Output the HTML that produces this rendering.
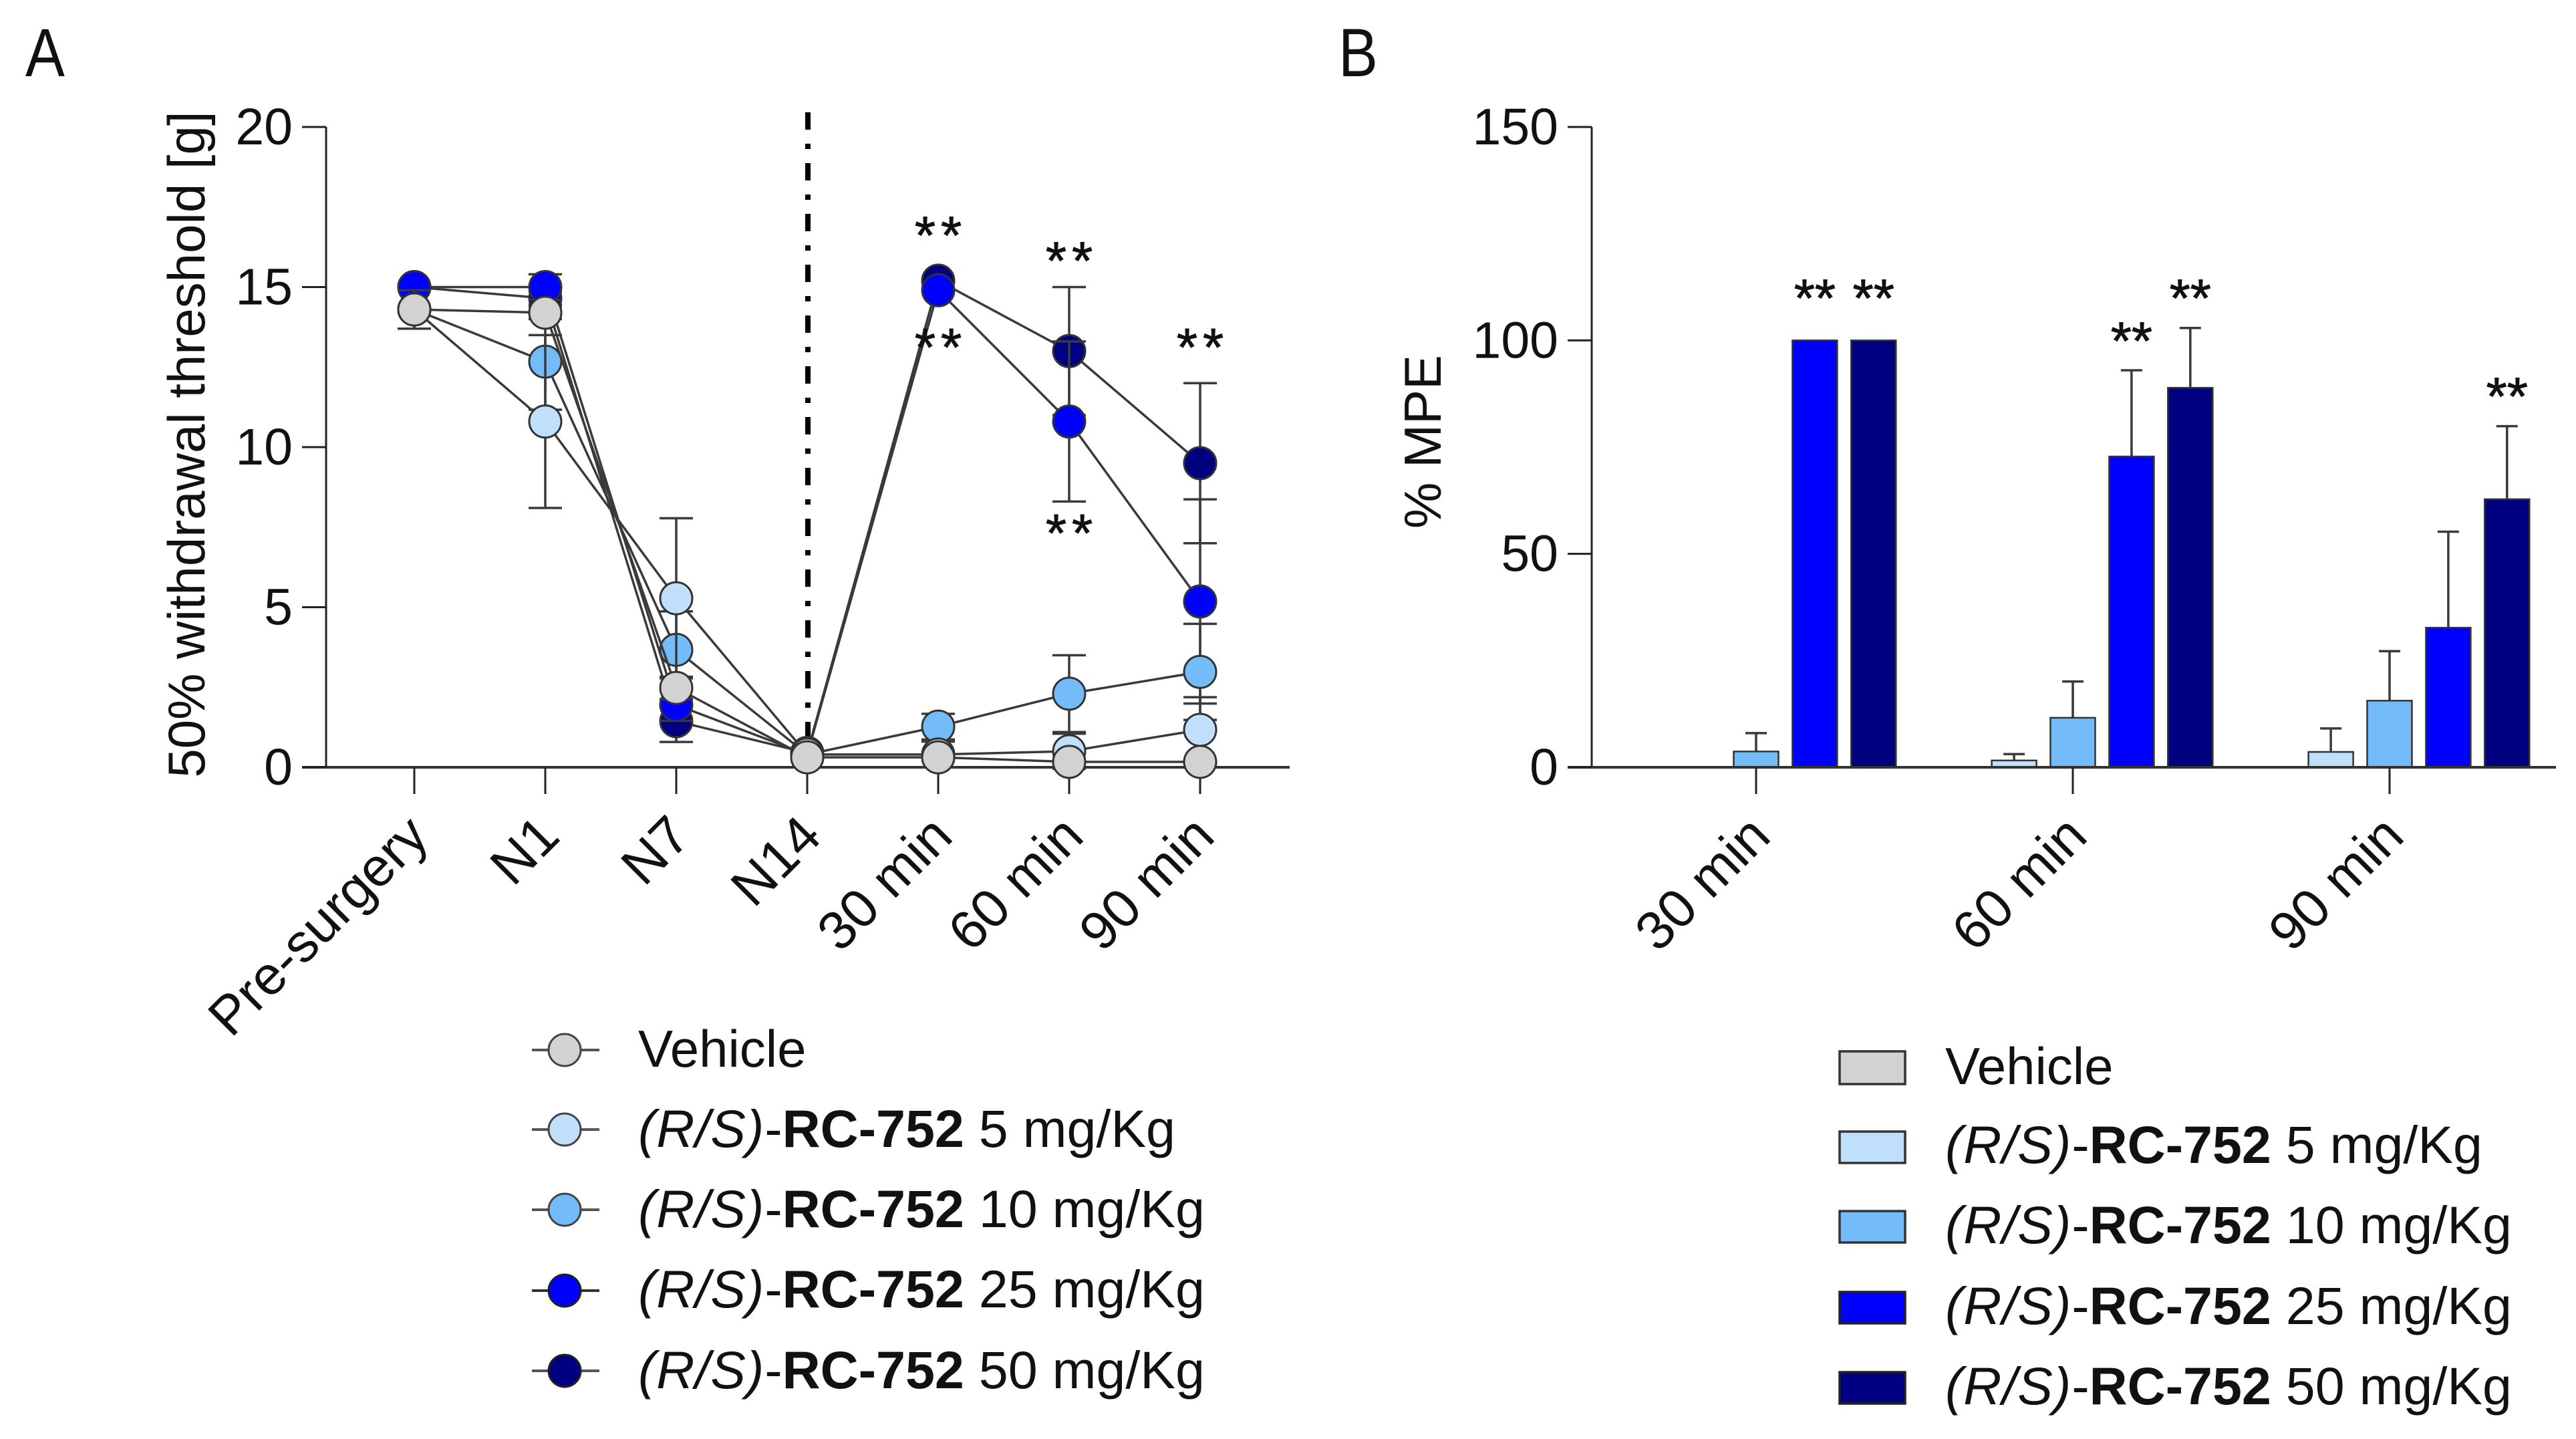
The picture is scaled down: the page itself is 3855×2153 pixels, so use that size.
<!DOCTYPE html>
<html lang="en">
<head>
<meta charset="utf-8">
<title>RC-752 withdrawal threshold and MPE</title>
<style>
html,body{margin:0;padding:0;background:#fff;}
svg{display:block;}
text{font-family:"Liberation Sans",sans-serif;fill:#111;}
.leg{font-size:79px;}
.veh{font-size:78px;}
.rs{font-style:italic;letter-spacing:1px;}
</style>
</head>
<body>
<svg id="figure" xmlns="http://www.w3.org/2000/svg" width="3855" height="2153" viewBox="0 0 3855 2153">
<rect x="0" y="0" width="3855" height="2153" fill="#fff"/>
<text transform="translate(38 114) scale(0.92 1.06)" font-size="96">A</text>
<text transform="translate(2003 114) scale(0.92 1.06)" font-size="96">B</text>
<text transform="translate(306 665) rotate(-90)" text-anchor="middle" font-size="78">50% withdrawal threshold [g]</text>
<text transform="translate(2156 661) rotate(-90)" text-anchor="middle" font-size="78">% MPE</text>

<g id="panelA"></g>
<g id="panelB"></g>

<g>
  <g>
    <line x1="796" x2="897" y1="1571" y2="1571" stroke="#555" stroke-width="4"/>
    <circle cx="845" cy="1571" r="24" fill="#d2d2d2" stroke="#444" stroke-width="3"/>
    <text class="veh" x="955" y="1596">Vehicle</text>
  </g>
  <g>
    <line x1="796" x2="897" y1="1690" y2="1690" stroke="#555" stroke-width="4"/>
    <circle cx="845" cy="1690" r="24" fill="#c0dffa" stroke="#444" stroke-width="3"/>
    <text class="leg" x="955" y="1716"><tspan class="rs">(R/S)</tspan>-<tspan font-weight="bold">RC-752</tspan> 5 mg/Kg</text>
  </g>
  <g>
    <line x1="796" x2="897" y1="1810" y2="1810" stroke="#555" stroke-width="4"/>
    <circle cx="845" cy="1810" r="24" fill="#74bbf9" stroke="#444" stroke-width="3"/>
    <text class="leg" x="955" y="1836"><tspan class="rs">(R/S)</tspan>-<tspan font-weight="bold">RC-752</tspan> 10 mg/Kg</text>
  </g>
  <g>
    <line x1="796" x2="897" y1="1931" y2="1931" stroke="#333" stroke-width="4"/>
    <circle cx="845" cy="1931" r="24" fill="#0000ff" stroke="#222" stroke-width="3"/>
    <text class="leg" x="955" y="1956"><tspan class="rs">(R/S)</tspan>-<tspan font-weight="bold">RC-752</tspan> 25 mg/Kg</text>
  </g>
  <g>
    <line x1="796" x2="897" y1="2051" y2="2051" stroke="#555" stroke-width="4"/>
    <circle cx="845" cy="2051" r="24" fill="#000080" stroke="#222" stroke-width="3"/>
    <text class="leg" x="955" y="2077"><tspan class="rs">(R/S)</tspan>-<tspan font-weight="bold">RC-752</tspan> 50 mg/Kg</text>
  </g>
</g>

<g>
  <g>
    <rect x="2753" y="1573" width="98" height="49" fill="#d2d2d2" stroke="#333" stroke-width="3.5"/>
    <text class="veh" x="2911" y="1622">Vehicle</text>
  </g>
  <g>
    <rect x="2753" y="1693" width="98" height="47" fill="#c0dffa" stroke="#333" stroke-width="3.5"/>
    <text class="leg" x="2911" y="1740"><tspan class="rs">(R/S)</tspan>-<tspan font-weight="bold">RC-752</tspan> 5 mg/Kg</text>
  </g>
  <g>
    <rect x="2753" y="1812" width="98" height="47" fill="#74bbf9" stroke="#333" stroke-width="3.5"/>
    <text class="leg" x="2911" y="1860"><tspan class="rs">(R/S)</tspan>-<tspan font-weight="bold">RC-752</tspan> 10 mg/Kg</text>
  </g>
  <g>
    <rect x="2753" y="1933" width="98" height="47" fill="#0000ff" stroke="#222" stroke-width="3.5"/>
    <text class="leg" x="2911" y="1981"><tspan class="rs">(R/S)</tspan>-<tspan font-weight="bold">RC-752</tspan> 25 mg/Kg</text>
  </g>
  <g>
    <rect x="2753" y="2053" width="98" height="47" fill="#000080" stroke="#222" stroke-width="3.5"/>
    <text class="leg" x="2911" y="2101"><tspan class="rs">(R/S)</tspan>-<tspan font-weight="bold">RC-752</tspan> 50 mg/Kg</text>
  </g>
</g>
</svg>

<script>
// ---- Panel A data (line chart) ----
const timeCategories = ['Pre-surgery', 'N1', 'N7', 'N14', '30 min', '60 min', '90 min'];
const thresholdTicks = [0, 5, 10, 15, 20];
const thresholdVehicle = [14.3, 14.2, 2.48, 0.31, 0.31, 0.17, 0.17];
const thresholdDose5 = [14.3, 10.8, 5.28, 0.4, 0.4, 0.5, 1.17];
const thresholdDose10 = [14.3, 12.67, 3.67, 0.4, 1.27, 2.3, 2.98];
const thresholdDose25 = [15, 15, 1.95, 0.4, 14.9, 10.8, 5.18];
const thresholdDose50 = [15, 14.65, 1.44, 0.45, 15.2, 13, 9.5];
const thresholdErrVehicle = [0.6, 0.2, 0.35, 0.05, 0.1, 0.05, 0.05];
const thresholdErrDose5 = [0.6, 2.7, 2.5, 0.1, 0.4, 0.55, 1.02];
const thresholdErrDose10 = [0.6, 1.5, 1.2, 0.1, 0.4, 1.2, 1.5];
const thresholdErrDose25 = [0, 0.4, 0.5, 0.1, 0, 2.5, 3.19];
const thresholdErrDose50 = [0, 0.2, 0.65, 0.1, 0, 2, 2.5];
const thresholdStarIndex = [4, 4, 5, 5, 6];
const thresholdStarLevel = [16.8, 13.3, 16, 7.5, 13.3];

// ---- Panel B data (bar chart) ----
const mpeCategories = ['30 min', '60 min', '90 min'];
const mpeTicks = [0, 50, 100, 150];
const mpeVehicle = [0, 0, 0];
const mpeDose5 = [0, 1.6, 3.6];
const mpeDose10 = [3.7, 11.6, 15.6];
const mpeDose25 = [100, 72.8, 32.7];
const mpeDose50 = [100, 88.9, 62.8];
const mpeErrVehicle = [0, 0, 0];
const mpeErrDose5 = [0, 1.5, 5.5];
const mpeErrDose10 = [4.3, 8.5, 11.6];
const mpeErrDose25 = [0, 20.2, 22.5];
const mpeErrDose50 = [0, 14, 17.1];
const mpeStarGroup = [0, 0, 1, 1, 2];
const mpeStarSeries = [3, 4, 3, 4, 4];
const mpeStarLevel = [112, 112, 102, 112, 89];

const SVGNS = 'http://www.w3.org/2000/svg';
function make(tag, parent, attrs, text) {
  const node = document.createElementNS(SVGNS, tag);
  for (const k in attrs) node.setAttribute(k, attrs[k]);
  if (text !== undefined) node.textContent = text;
  parent.appendChild(node);
  return node;
}

// Axis functions
const xA = i => 620 + 196 * i;
const yA = v => 1148 - v * 47.9;
const xB = (g, s) => 2628 + 474 * g + 87.9 * (s - 2);
const yB = v => 1148 - v * 6.387;

const INK = '#222';
const LINE = '#3a3a3a';

function drawAxes(parent, prefix, axisX, yScale, yTicks, tickXs, xEnd, labels) {
  let el = make('line', parent, {x1: axisX, x2: axisX, y1: yScale(yTicks[yTicks.length - 1]), y2: 1148, stroke: INK, 'stroke-width': 3});
  
  
  el = make('line', parent, {x1: axisX - 36, x2: xEnd, y1: 1148, y2: 1148, stroke: '#333', 'stroke-width': 4});
  
  
  yTicks.forEach(t => {
    let tick = make('line', parent, {x1: axisX - 36, x2: axisX, y1: yScale(t), y2: yScale(t), stroke: INK, 'stroke-width': 3});
    
    
    let lab = make('text', parent, {x: axisX - 50, y: yScale(t) + 26, 'text-anchor': 'end', 'font-size': 77}, String(t));
    
    
  });
  labels.forEach((name, i) => {
    let tick = make('line', parent, {x1: tickXs[i], x2: tickXs[i], y1: 1148, y2: 1188, stroke: INK, 'stroke-width': 3});
    
    
    let lab = make('text', parent, {transform: 'translate(' + (tickXs[i] + 25) + ' 1255) rotate(-45)', 'text-anchor': 'end', 'font-size': 81}, name);
    
    
  });
}

function drawStars(parent, x, y, spacing, lift) {
  const star = make('text', parent, {x: x + spacing / 2, y: y + 46 - lift, 'text-anchor': 'middle', 'font-size': 80, 'letter-spacing': spacing, stroke: '#111', 'stroke-width': 1}, '**');
  
  
}

// ---- Panel A ----
const panelA = document.getElementById('panelA');
drawAxes(panelA, 'panel-a', 488, yA, thresholdTicks, timeCategories.map((c, i) => xA(i)), 1930, timeCategories);

const divider = make('line', panelA, {x1: 1209, x2: 1209, y1: 168, y2: 1148, stroke: '#000', 'stroke-width': 8, 'stroke-dasharray': '26 21 8 21'});



const lineSeries = [
  {key: 'dose-50', values: thresholdDose50, errs: thresholdErrDose50, fill: '#000080'},
  {key: 'dose-25', values: thresholdDose25, errs: thresholdErrDose25, fill: '#0000ff'},
  {key: 'dose-10', values: thresholdDose10, errs: thresholdErrDose10, fill: '#74bbf9'},
  {key: 'dose-5', values: thresholdDose5, errs: thresholdErrDose5, fill: '#c0dffa'},
  {key: 'vehicle', values: thresholdVehicle, errs: thresholdErrVehicle, fill: '#d2d2d2'}
];
lineSeries.forEach(s => {
  const g = make('g', panelA, {});
  
  
  s.values.forEach((v, i) => {
    const e = s.errs[i];
    if (e <= 0) return;
    const x = xA(i);
    const bar = make('path', g, {d: 'M' + (x - 25) + ' ' + yA(v + e) + 'H' + (x + 25) + 'M' + x + ' ' + yA(v + e) + 'V' + yA(v - e) + 'M' + (x - 25) + ' ' + yA(v - e) + 'H' + (x + 25), fill: 'none', stroke: LINE, 'stroke-width': 3.5});
    
    
  });
  const pl = make('polyline', g, {points: s.values.map((v, i) => xA(i) + ',' + yA(v)).join(' '), fill: 'none', stroke: LINE, 'stroke-width': 3.5});
  
  
  s.values.forEach((v, i) => {
    const m = make('circle', g, {cx: xA(i), cy: yA(v), r: 24, fill: s.fill, stroke: '#333', 'stroke-width': 3});
    
    
  });
});
thresholdStarIndex.forEach((idx, i) => drawStars(panelA, xA(idx), yA(thresholdStarLevel[i]), 8, 10));

// ---- Panel B ----
const panelB = document.getElementById('panelB');
const barSeries = [
  {key: 'vehicle', values: mpeVehicle, errs: mpeErrVehicle, fill: '#d2d2d2'},
  {key: 'dose-5', values: mpeDose5, errs: mpeErrDose5, fill: '#c0dffa'},
  {key: 'dose-10', values: mpeDose10, errs: mpeErrDose10, fill: '#74bbf9'},
  {key: 'dose-25', values: mpeDose25, errs: mpeErrDose25, fill: '#0000ff'},
  {key: 'dose-50', values: mpeDose50, errs: mpeErrDose50, fill: '#000080'}
];
barSeries.forEach((s, si) => {
  s.values.forEach((v, g) => {
    if (v <= 0) return;
    const x = xB(g, si);
    const e = s.errs[g];
    if (e > 0) {
      const w = make('path', panelB, {d: 'M' + x + ' ' + yB(v) + 'V' + yB(v + e) + 'M' + (x - 16) + ' ' + yB(v + e) + 'H' + (x + 16), fill: 'none', stroke: LINE, 'stroke-width': 3.5});
      
      
    }
    const r = make('rect', panelB, {x: x - 33.5, y: yB(v), width: 67, height: 1148 - yB(v), fill: s.fill, stroke: '#333', 'stroke-width': 2.5});
    
    
  });
});
drawAxes(panelB, 'panel-b', 2382, yB, mpeTicks, mpeCategories.map((c, g) => xB(g, 2)), 3825, mpeCategories);
mpeStarGroup.forEach((g, i) => drawStars(panelB, xB(g, mpeStarSeries[i]), yB(mpeStarLevel[i]), 0, 5));
</script>
</body>
</html>
